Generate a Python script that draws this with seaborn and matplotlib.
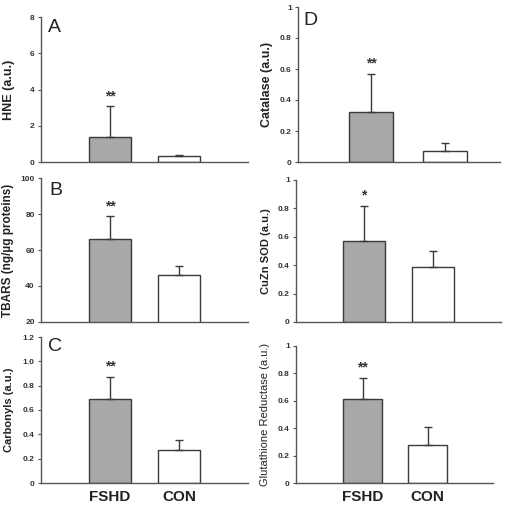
import matplotlib
matplotlib.use("Agg")
import matplotlib.pyplot as plt
import seaborn as sns
import pandas as pd

sns.set_style("white")
plt.rcParams['font.family'] = ['Liberation Sans', 'DejaVu Sans']

groups = ["FSHD", "CON"]
hne = [1.38, 0.35]
hne_err = [1.72, 0.05]
tbars = [66.3, 46.3]
tbars_err = [12.7, 4.7]
carbonyls = [0.69, 0.27]
carbonyls_err = [0.185, 0.08]
catalase = [0.32, 0.07]
catalase_err = [0.25, 0.05]
cuzn_sod = [0.57, 0.39]
cuzn_sod_err = [0.25, 0.11]
gr = [0.61, 0.28]
gr_err = [0.16, 0.13]
stars = ["**", "**", "**", "**", "*", "**"]

panels = [
    dict(letter="A", vals=hne, err=hne_err, label="HNE (a.u.)", ylim=(0, 8), ticks=[0, 2, 4, 6, 8],
         tl=["0", "2", "4", "6", "8"], px=(41, 248, 17, 162), xlim=(-1.0, 2.0), w=0.61, lfs=9, lw="bold", lx=9,
         lp=(48, 19)),
    dict(letter="B", vals=tbars, err=tbars_err, label="TBARS (ng/µg proteins)", ylim=(20, 100),
         ticks=[20, 40, 60, 80, 100], tl=["20", "40", "60", "80", "100"], px=(41, 248, 178, 322),
         xlim=(-1.0, 2.0), w=0.61, lfs=8.5, lw="bold", lx=8, lp=(49, 182)),
    dict(letter="C", vals=carbonyls, err=carbonyls_err, label="Carbonyls (a.u.)", ylim=(0, 1.2),
         ticks=[0, 0.2, 0.4, 0.6, 0.8, 1.0, 1.2], tl=["0", "0.2", "0.4", "0.6", "0.8", "1.0", "1.2"],
         px=(41, 248, 337, 483), xlim=(-1.0, 2.0), w=0.61, lfs=8, lw="bold", lx=9, lp=(48, 338)),
    dict(letter="D", vals=catalase, err=catalase_err, label="Catalase (a.u.)", ylim=(0, 1),
         ticks=[0, 0.2, 0.4, 0.6, 0.8, 1], tl=["0", "0.2", "0.4", "0.6", "0.8", "1"],
         px=(298, 500, 7, 162), xlim=(-0.99, 1.74), w=0.6, lfs=9, lw="bold", lx=267, lp=(303, 12)),
    dict(letter=None, vals=cuzn_sod, err=cuzn_sod_err, label="CuZn SOD (a.u.)", ylim=(0, 1),
         ticks=[0, 0.2, 0.4, 0.6, 0.8, 1], tl=["0", "0.2", "0.4", "0.6", "0.8", "1"],
         px=(296, 501, 180, 322), xlim=(-0.99, 1.99), w=0.6, lfs=8, lw="bold", lx=266, lp=None),
    dict(letter=None, vals=gr, err=gr_err, label="Glutathione Reductase (a.u.)", ylim=(0, 1),
         ticks=[0, 0.2, 0.4, 0.6, 0.8, 1], tl=["0", "0.2", "0.4", "0.6", "0.8", "1"],
         px=(296, 493, 346, 483), xlim=(-1.02, 2.0), w=0.6, lfs=8, lw="normal", lx=265, lp=None),
]

W, H = 507, 505
fig = plt.figure(figsize=(W / 100, H / 100), dpi=100)
edge = "#3a3a3a"
axc = "#555555"

for i, p in enumerate(panels):
    l, r, t, b = p["px"]
    ax = fig.add_axes([l / W, 1 - b / H, (r - l) / W, (b - t) / H])
    df = pd.DataFrame({"group": groups, "value": p["vals"]})
    sns.barplot(data=df, x="group", y="value", hue="group", order=groups, hue_order=groups,
                palette={"FSHD": "#a8a8a8", "CON": "#ffffff"}, width=p["w"], edgecolor=edge,
                linewidth=1.0, legend=False, ax=ax, errorbar=None)
    ax.errorbar([0, 1], p["vals"], yerr=[[0, 0], p["err"]], fmt="none", ecolor=edge,
                elinewidth=1.0, capsize=3, capthick=1.0, zorder=5)
    top = p["vals"][0] + p["err"][0]
    ax.annotate(stars[i], (0, top), xytext=(0, 2), textcoords="offset points", ha="center",
                va="bottom", fontsize=10, fontweight="bold", color="#333333")
    ax.set_xlim(*p["xlim"])
    ax.set_ylim(*p["ylim"])
    ax.set_yticks(p["ticks"])
    ax.set_yticklabels(p["tl"], fontsize=6, fontweight="bold", color="#333333")
    ax.tick_params(axis="y", length=2.5, width=0.8, color=axc, pad=2, left=True)
    ax.tick_params(axis="x", length=0)
    ax.set_xlabel("")
    ax.set_ylabel("")
    if i in (2, 5):
        ax.set_xticks([0, 1])
        ax.set_xticklabels(groups, fontsize=11, fontweight="bold", color="#222222")
        ax.tick_params(axis="x", pad=5)
    else:
        ax.set_xticks([])
    for s in ("top", "right"):
        ax.spines[s].set_visible(False)
    for s in ("left", "bottom"):
        ax.spines[s].set_color(axc)
        ax.spines[s].set_linewidth(1.0)
    if p["letter"]:
        fig.text(p["lp"][0] / W, 1 - p["lp"][1] / H, p["letter"], fontsize=14, ha="left", va="top",
                 color="#222222")
    fig.text(p["lx"] / W, 1 - ((t + b) / 2) / H, p["label"], rotation=90, ha="center", va="center",
             fontsize=p["lfs"], fontweight=p["lw"], color="#222222")

fig.savefig("out.png", dpi=100, facecolor="white")
